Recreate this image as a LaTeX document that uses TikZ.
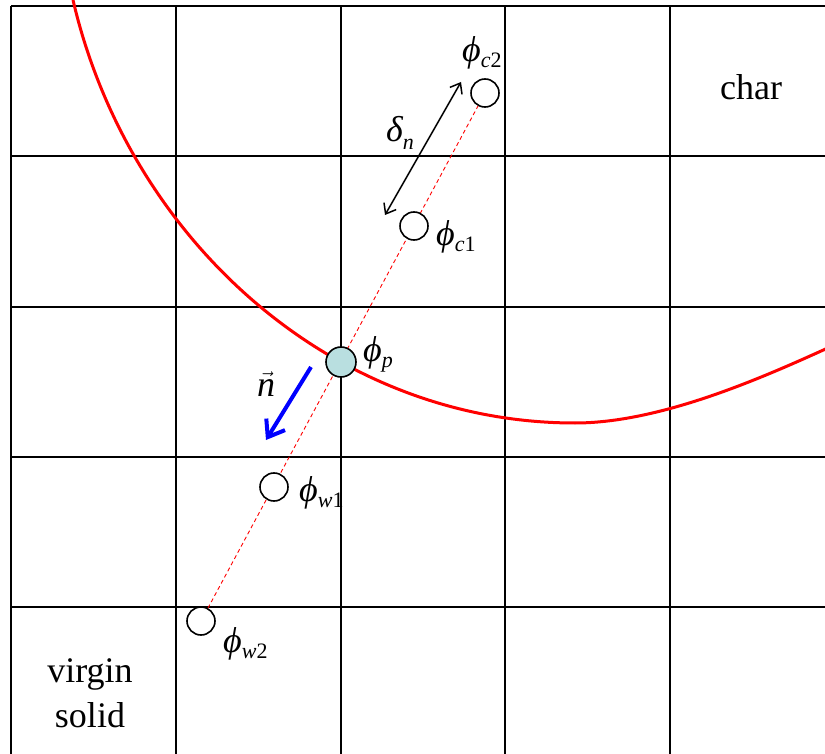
\documentclass[tikz,border=0pt]{standalone}
\usepackage{fontspec}
\setmainfont{Liberation Serif}
\usetikzlibrary{arrows.meta}
\definecolor{cellteal}{RGB}{185,223,224}
\newcommand{\phlbl}[1]{{\itshape ϕ}\raisebox{-6pt}{\fontsize{22}{22}\selectfont #1}}
\tikzset{
  gridline/.style={line width=1.8pt, black},
  front/.style={red, line width=3pt},
  normalline/.style={red, line width=0.9pt, dash pattern=on 4pt off 3pt},
  pt/.style={circle, draw=black, line width=1.6pt, fill=white, minimum size=28pt, inner sep=0pt},
  ptp/.style={pt, fill=cellteal, minimum size=30pt},
  lbl/.style={font=\fontsize{36}{40}\selectfont, inner sep=0pt, anchor=base west},
  txt/.style={font=\fontsize{36}{45}\selectfont, inner sep=0pt, align=center}
}
\begin{document}
\begin{tikzpicture}[x=1pt,y=-1pt]
\useasboundingbox (0,0) rectangle (825,754);
% grid
\foreach \xx in {11,176,341,505,670} \draw[gridline] (\xx,6) -- (\xx,754);
\foreach \yy in {6,156,307,457,607} \draw[gridline] (11,\yy) -- (825,\yy);
% front
\begin{scope}
\clip (0,0) rectangle (825,754);
\coordinate (f0) at (73,0);
\coordinate (f1) at (575,423);
\coordinate (f2) at (830,347);
\draw[front] (f0) .. controls (128,237) and (330,423) .. (f1)
                  .. controls (662,423) and (766,376) .. (f2);
\end{scope}
% points
\coordinate (c2c) at (485,93);
\coordinate (w2c) at (201,621);
\draw[normalline] (c2c) -- (w2c);
\node[pt] (c2) at (485,93) {};
\node[pt] (c1) at (414,226) {};
\node[ptp] (p) at (341,362) {};
\node[pt] (w1) at (274,487) {};
\node[pt] (w2) at (201,621) {};
% labels
\node[lbl] (lc2) at (462,62) {\phlbl{\textit{c}2}};
\node[lbl] (lc1) at (436,246) {\phlbl{\textit{c}1}};
\node[lbl] (lp) at (363,361) {\phlbl{\textit{p}}};
\node[lbl] (lw1) at (299,501) {\phlbl{\textit{w}1}};
\node[lbl] (lw2) at (223,652) {\phlbl{\textit{w}2}};
\node[lbl] (ld) at (386,142) {{\itshape δ}\raisebox{-8pt}{\fontsize{22}{22}\selectfont\itshape n}};
\node[lbl] (ln) at (257,396) {$\vec{\mbox{\itshape n}}$};
% arrows
\coordinate (da) at (461,82);
\coordinate (db) at (385,215);
\draw[line width=1.5pt, {Straight Barb[length=9pt,width=14pt]}-{Straight Barb[length=9pt,width=14pt]}] (db) -- (da);
\coordinate (na) at (311,367);
\coordinate (nb) at (266,440);
\draw[blue, line width=4pt, -{Straight Barb[length=15pt,width=22pt]}] (na) -- (nb);
% region names
\node[txt] (char) at (751,87) {char};
\node[txt, anchor=base] (virgin) at (90,727) {virgin\\solid};
\end{tikzpicture}
\end{document}
